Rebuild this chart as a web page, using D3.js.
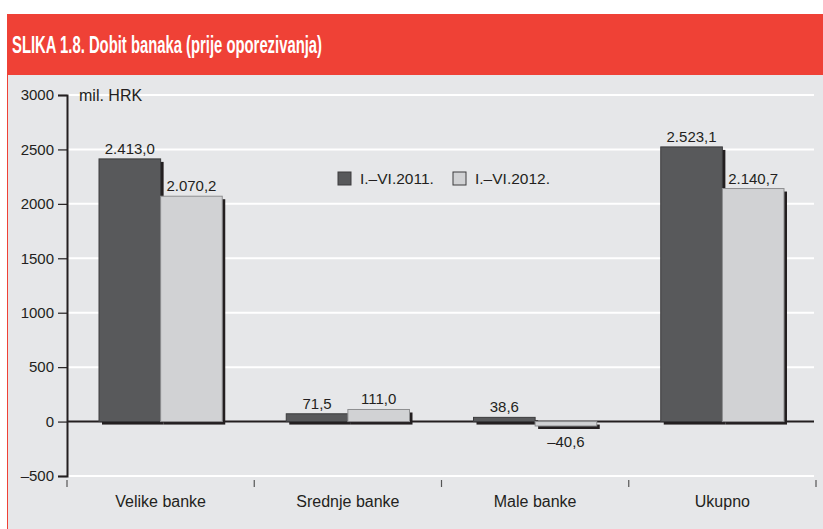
<!DOCTYPE html>
<html>
<head>
<meta charset="utf-8">
<title>Dobit banaka</title>
<script src="https://cdn.jsdelivr.net/npm/d3@7"></script>
<style>
  body { margin: 0; background: #fff; }
  text { font-family: "Liberation Sans", Arial, Helvetica, sans-serif; fill: #231f20; }
</style>
</head>
<body>
<div id="chart"></div>
<script>
// data (mil. HRK)
var categories = ["Velike banke", "Srednje banke", "Male banke", "Ukupno"]
var seriesNames = ["I.–VI.2011.", "I.–VI.2012."]
var values2011 = [2413.0, 71.5, 38.6, 2523.1]
var values2012 = [2070.2, 111.0, -40.6, 2140.7]
var yTicks = [-500, 0, 500, 1000, 1500, 2000, 2500, 3000]

var colors = ["#58595b", "#d1d2d4"]
var strokes = ["#3c3c3e", "#8e8f91"]

var W = 823, H = 529
var svg = d3.select("#chart").append("svg")
  .attr("width", W).attr("height", H)

// panel + header
svg.append("rect").attr("x", 7).attr("y", 75).attr("width", W - 7).attr("height", H - 75).attr("fill", "#e6e7e9")
svg.append("line").attr("x1", 7.5).attr("x2", 7.5).attr("y1", 75).attr("y2", H)
  .attr("stroke", "#ef4136").attr("stroke-width", 1)
svg.append("rect").attr("x", 7).attr("y", 14).attr("width", W - 7).attr("height", 61).attr("fill", "#ef4136")
svg.append("text").attr("x", 12).attr("y", 53)
  .attr("textLength", 310).attr("lengthAdjust", "spacingAndGlyphs")
  .style("font-size", "23px").style("font-weight", "bold").style("fill", "#fff")
  .text("SLIKA 1.8. Dobit banaka (prije oporezivanja)")

var loc = d3.formatLocale({ decimal: ",", thousands: ".", grouping: [3], currency: ["", ""], minus: "–" })
var fmtVal = loc.format(",.1f")
var fmtTick = loc.format("d")

var x0 = 67, x1 = 816
var y = d3.scaleLinear().domain([-500, 3000]).range([476, 95])
var x = d3.scaleBand().domain(categories).range([x0, x1]).paddingInner(0).paddingOuter(0)
var xs = d3.scaleBand().domain([0, 1]).range([32, x.bandwidth() - 32])

// gridlines
svg.append("g").selectAll("line").data(yTicks.filter(function (d) { return d != 0 }))
  .join("line")
  .attr("x1", x0).attr("x2", 814)
  .attr("y1", function (d) { return y(d) }).attr("y2", function (d) { return y(d) })
  .attr("stroke", "#fff").attr("stroke-width", 2)

// y axis
var yAxis = svg.append("g").attr("transform", "translate(" + x0 + ",0)")
  .call(d3.axisLeft(y).tickValues(yTicks).tickFormat(fmtTick).tickSize(9).tickPadding(4))
yAxis.select(".domain").attr("stroke", "#231f20").attr("stroke-width", 2)
yAxis.selectAll(".tick line").attr("stroke", "#231f20").attr("stroke-width", 1.2)
yAxis.selectAll("text").style("font-size", "15px").style("font-family", "Liberation Sans, Arial, sans-serif").attr("fill", "#231f20")

svg.append("text").attr("x", 79).attr("y", 101).style("font-size", "16px").text("mil. HRK")

// x axis ticks under plot
svg.append("g").selectAll("line").data(d3.range(categories.length + 1))
  .join("line")
  .attr("x1", function (d) { return x0 + d * x.bandwidth() }).attr("x2", function (d) { return x0 + d * x.bandwidth() })
  .attr("y1", 480).attr("y2", 487)
  .attr("stroke", "#555").attr("stroke-width", 1.2)

svg.append("g").selectAll("text").data(categories)
  .join("text")
  .attr("x", function (d) { return x(d) + x.bandwidth() / 2 })
  .attr("y", 507)
  .attr("text-anchor", "middle")
  .style("font-size", "16px")
  .text(function (d) { return d })

// bars
var rows = []
categories.forEach(function (c, i) {
  rows.push({ cat: c, s: 0, v: values2011[i] })
  rows.push({ cat: c, s: 1, v: values2012[i] })
})

var gb = svg.append("g")
// shadows
gb.selectAll("rect.sh").data(rows).join("rect").attr("class", "sh")
  .attr("x", function (d) { return x(d.cat) + xs(d.s) + 3 })
  .attr("y", function (d) { return Math.min(y(d.v), y(0)) + 3 })
  .attr("width", xs.bandwidth())
  .attr("height", function (d) { return Math.abs(y(d.v) - y(0)) })
  .attr("fill", "#231f20")

// zero line
svg.append("line").attr("x1", x0).attr("x2", 814).attr("y1", y(0)).attr("y2", y(0))
  .attr("stroke", "#231f20").attr("stroke-width", 2)

svg.append("g").selectAll("rect").data(rows).join("rect")
  .attr("x", function (d) { return x(d.cat) + xs(d.s) })
  .attr("y", function (d) { return Math.min(y(d.v), y(0)) })
  .attr("width", xs.bandwidth())
  .attr("height", function (d) { return Math.abs(y(d.v) - y(0)) })
  .attr("fill", function (d) { return colors[d.s] })
  .attr("stroke", function (d) { return strokes[d.s] })
  .attr("stroke-width", 1)

// value labels
svg.append("g").selectAll("text").data(rows).join("text")
  .attr("x", function (d) { return x(d.cat) + xs(d.s) + xs.bandwidth() / 2 })
  .attr("y", function (d) { return d.v >= 0 ? y(d.v) - 5 : y(0) + 25 })
  .attr("text-anchor", "middle")
  .style("font-size", "15px")
  .text(function (d) { return fmtVal(d.v) })

// legend
var lg = svg.append("g").attr("transform", "translate(338,172)")
seriesNames.forEach(function (n, i) {
  var g = lg.append("g").attr("transform", "translate(" + (i * 115) + ",0)")
  g.append("rect").attr("width", 13).attr("height", 13)
    .attr("fill", colors[i]).attr("stroke", "#3c3c3e").attr("stroke-width", 1)
  g.append("text").attr("x", 22).attr("y", 12).style("font-size", "15.5px").text(n)
})
</script>
</body>
</html>
